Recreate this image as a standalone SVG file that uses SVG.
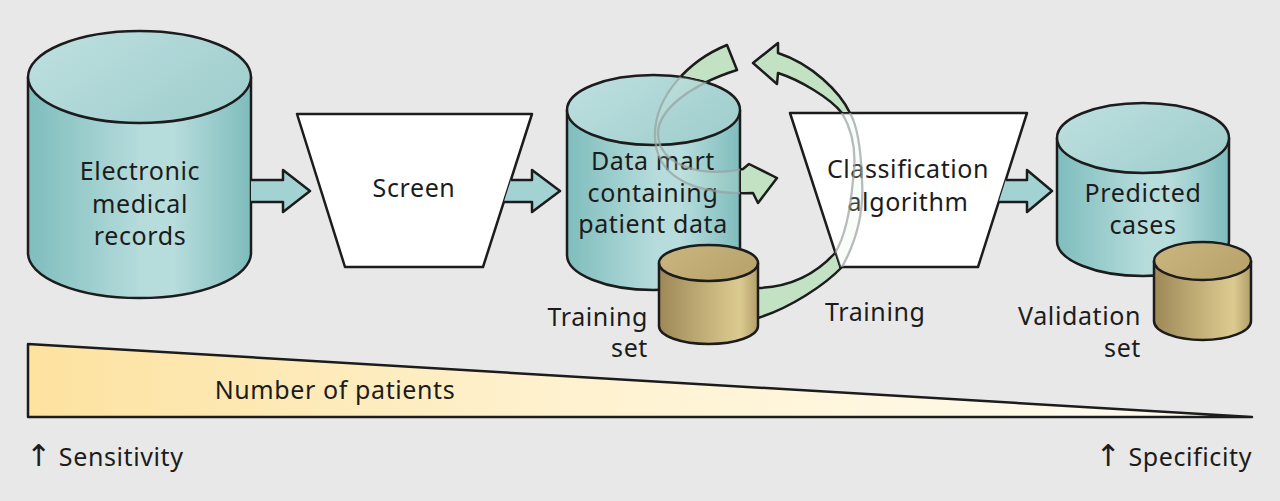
<svg xmlns="http://www.w3.org/2000/svg" width="1280" height="501" viewBox="0 0 1280 501">
<defs>
<style>
text { font-family: "Noto Sans", "Liberation Sans", "DejaVu Sans", sans-serif; font-size: 25px; fill: #1c1c1c; letter-spacing: 0.6px; }
.c { text-anchor: middle; }
.e { text-anchor: end; }
.up { font-family: "DejaVu Sans", sans-serif; font-size: 30px; }
.ol { stroke: #1c1c1c; stroke-width: 2.5; stroke-linejoin: round; }
.body { fill: url(#tealBody); }
.top { fill: url(#tealTop); }
.gbody { fill: url(#goldBody); }
.gtop { fill: url(#goldTop); }
.trap { fill: #ffffff; }
.arrow { fill: #a3d2d2; }
.band { fill: #c3e2c3; stroke: #1c1c1c; stroke-width: 2.5; stroke-linejoin: round; }
.band-faint { fill: #e0f2e0; fill-opacity: 0.18; stroke: #979f9f; stroke-opacity: 0.7; stroke-width: 2.3; }
</style>
<linearGradient id="tealBody" x1="0" y1="0" x2="1" y2="0">
<stop offset="0" stop-color="#7fbdbd"/>
<stop offset="0.5" stop-color="#b5dbdb"/>
<stop offset="0.65" stop-color="#b8dddd"/>
<stop offset="1" stop-color="#7fbcbc"/>
</linearGradient>
<linearGradient id="tealTop" x1="0" y1="0" x2="1" y2="0.6">
<stop offset="0" stop-color="#bfe0e0"/>
<stop offset="1" stop-color="#a2cfcf"/>
</linearGradient>
<linearGradient id="goldBody" x1="0" y1="0" x2="1" y2="0">
<stop offset="0" stop-color="#9d8857"/>
<stop offset="0.5" stop-color="#c5b27a"/>
<stop offset="0.82" stop-color="#dccb91"/>
<stop offset="1" stop-color="#b29d68"/>
</linearGradient>
<linearGradient id="goldTop" x1="0" y1="0" x2="1" y2="0.5">
<stop offset="0" stop-color="#cbb680"/>
<stop offset="1" stop-color="#b9a46e"/>
</linearGradient>
<linearGradient id="wedge" x1="0" y1="0" x2="1" y2="0">
<stop offset="0" stop-color="#fde2a0"/>
<stop offset="0.45" stop-color="#fef2d0"/>
<stop offset="1" stop-color="#fffcf2"/>
</linearGradient>
<path id="bandA" d="M740,318 L758,318 C790,308 825,285 842,267 C857,240 864,210 862,180 C861,150 857,125 850,113 C840,92 812,64 778,53 L778,43 L753,63 L777,84 L778,73 C800,80 830,98 842,113 C855,135 856,160 853,180 C850,215 843,240 835,253 C815,275 790,287 758,288 L740,288 Z"/>
<path id="bandB" d="M727,45 C690,60 655,95 655,135 C655,175 690,195 753,193 L758,203 L777,178 L749,164 L743,169 C700,178 660,165 658,135 C657,110 690,85 737,70 Z"/>
<mask id="outside" maskUnits="userSpaceOnUse" x="0" y="0" width="1280" height="501">
<rect x="0" y="0" width="1280" height="501" fill="#ffffff"/>
<path d="M567,110 A86.5,35 0 0 1 740,110 L740,255 A86.5,35 0 0 1 567,255 Z" fill="#000000" stroke="#000000" stroke-width="2"/>
<polygon points="790,113 1027,113 978,267 840,267" fill="#000000" stroke="#000000" stroke-width="2"/>
</mask>
<clipPath id="inside">
<path d="M567,110 A86.5,35 0 0 1 740,110 L740,255 A86.5,35 0 0 1 567,255 Z"/>
<polygon points="790,113 1027,113 978,267 840,267"/>
</clipPath>
</defs>

<rect x="0" y="0" width="1280" height="501" fill="#e8e8e8"/>

<g id="emr">
<path class="body ol" d="M28,77 L28,253 A111.5,45 0 0 0 251,253 L251,77"/>
<ellipse class="top ol" cx="139.5" cy="77" rx="111.5" ry="46"/>
<text class="c" x="140" y="180">Electronic</text>
<text class="c" x="140" y="213">medical</text>
<text class="c" x="140" y="245">records</text>
</g>

<g id="screen">
<polygon class="trap ol" points="297,114 532,114 483,267 345,267"/>
<text class="c" x="414" y="197">Screen</text>
</g>

<g id="datamart">
<path class="body ol" d="M567,110 L567,255 A86.5,35 0 0 0 740,255 L740,110"/>
<ellipse class="top ol" cx="653.5" cy="110" rx="86.5" ry="35"/>
<text class="c" x="653" y="170">Data mart</text>
<text class="c" x="653" y="202">containing</text>
<text class="c" x="653" y="233">patient data</text>
</g>

<g id="classifier">
<polygon class="trap ol" points="790,113 1027,113 978,267 840,267"/>
<text class="c" x="908" y="178">Classification</text>
<text class="c" x="908" y="211">algorithm</text>
</g>

<g id="predicted">
<path class="body ol" d="M1057,138 L1057,241 A86,35 0 0 0 1229,241 L1229,138"/>
<ellipse class="top ol" cx="1143" cy="138" rx="86" ry="35"/>
<text class="c" x="1143" y="202">Predicted</text>
<text class="c" x="1143" y="234">cases</text>
</g>

<g id="validation">
<path class="gbody ol" d="M1154,261 L1154,321 A48.5,19 0 0 0 1251,321 L1251,261"/>
<ellipse class="gtop ol" cx="1202.5" cy="261" rx="48.5" ry="19"/>
<text class="e" x="1141" y="325">Validation</text>
<text class="e" x="1141" y="357">set</text>
</g>

<g id="connectors">
<path class="arrow ol" d="M251,180 H283 V170 L310,191 L283,212 V202 H251"/>
<path class="arrow ol" d="M510.9,180 H532 V170 L560,191 L532,212 V202 H503.8"/>
<path class="arrow ol" d="M1005.7,180 H1027 V170 L1052,191 L1027,212 V202 H998.7"/>
<use href="#bandA" class="band" mask="url(#outside)"/>
<use href="#bandB" class="band" mask="url(#outside)"/>
<g clip-path="url(#inside)">
<use href="#bandA" class="band-faint"/>
<use href="#bandB" class="band-faint"/>
</g>
<text x="825" y="321">Training</text>
</g>

<g id="training">
<path class="gbody ol" d="M659,263 L659,326 A49.5,18 0 0 0 758,326 L758,263"/>
<ellipse class="gtop ol" cx="708.5" cy="263" rx="49.5" ry="18"/>
<text class="e" x="648" y="326">Training</text>
<text class="e" x="648" y="357">set</text>
</g>

<g id="patients">
<polygon points="28,344 28,417 1252,417" fill="url(#wedge)" class="ol"/>
<text class="c" x="335" y="399">Number of patients</text>
<text x="26" y="466"><tspan class="up">↑</tspan> Sensitivity</text>
<text class="e" x="1252" y="466"><tspan class="up">↑</tspan> Specificity</text>
</g>
</svg>
